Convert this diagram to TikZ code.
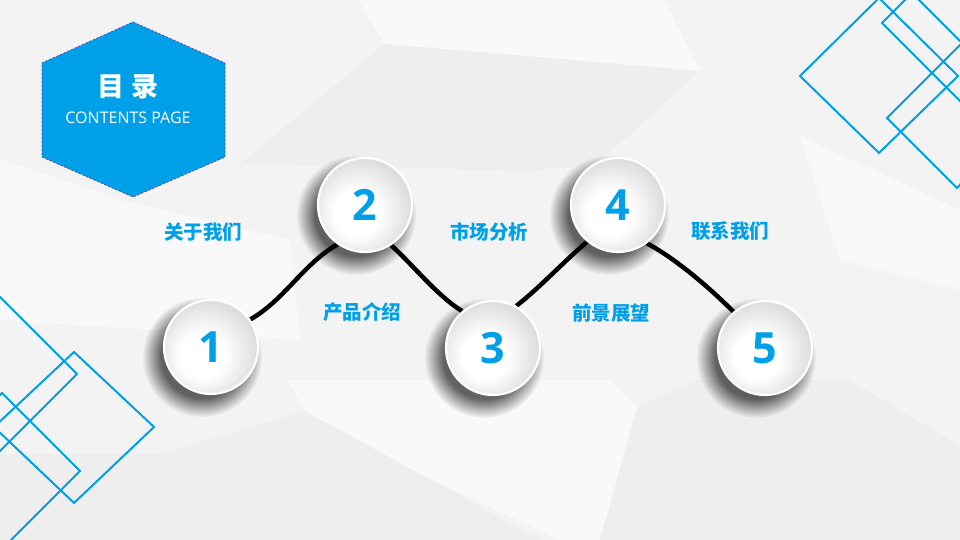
\documentclass[tikz,border=0pt]{standalone}
\usepackage{fontspec}
\setmainfont{Open Sans}
\newfontfamily\cjk{Noto Sans CJK SC}
\usetikzlibrary{fadings}
\definecolor{mainblue}{HTML}{00A0E9}
\definecolor{bgbase}{HTML}{F3F3F4}
\definecolor{bglight}{HTML}{F9F9FA}
\definecolor{bgdark}{HTML}{EEEEEF}
\definecolor{hexedge}{HTML}{5A4FB0}
\pgfdeclareradialshading{discshade}{\pgfpoint{-6bp}{-6bp}}{color(0bp)=(white); color(12bp)=(white); color(28bp)=(black!14); color(50bp)=(black!14)}
\pgfdeclareradialshading{softsh}{\pgfpointorigin}{color(0bp)=(white); color(17bp)=(white); color(25bp)=(black); color(50bp)=(black)}
\pgfdeclarefading{softshadow}{\pgfuseshading{softsh}}
\pgfdeclarelayer{back}
\pgfdeclarelayer{mid}
\pgfsetlayers{back,mid,main}
\begin{document}
\begin{tikzpicture}[x=1pt,y=1pt,
  deco/.style={draw=mainblue, line width=2},
  disc/.style={circle, minimum size=94, inner sep=0, draw=white, line width=2.2, shade, shading=discshade, text=mainblue, font=\bfseries\fontsize{43}{43}\selectfont},
  lbl/.style={text=mainblue, font=\cjk\bfseries\fontsize{19.5}{20}\selectfont, inner sep=0},
  link/.style={draw=black, line width=4.5},
  shadowc/.style={fill=black, opacity=0.6, path fading=softshadow}]
\useasboundingbox (0,0) rectangle (960,540);

% circles
\node[disc] (c1) at (211,193) {1};
\node[disc] (c2) at (365,335) {2};
\node[disc] (c3) at (493,192) {3};
\node[disc] (c4) at (618,335) {4};
\node[disc] (c5) at (765,192) {5};

\begin{pgfonlayer}{back}
  % background
  \fill[bgbase] (0,0) rectangle (960,540);
  \fill[bglight] (358,540) -- (385,496) -- (700,469) -- (665,540) -- cycle;
  \fill[bgdark] (385,496) -- (700,469) -- (597,376) -- (526,369) -- (240,376) -- cycle;
  \fill[bglight] (287,160) -- (305,129) -- (420,66) -- (560,0) -- (600,0) -- (637,132) -- (609,160) -- cycle;
  \fill[bgdark] (0,86) -- (160,86) -- (305,129) -- (420,66) -- (540,0) -- (0,0) -- cycle;
  \fill[bgdark] (637,132) -- (696,160) -- (849,160) -- (960,94) -- (960,0) -- (600,0) -- cycle;
  \fill[bglight] (0,380) -- (120,340) -- (290,300) -- (300,200) -- (0,220) -- cycle;
  \fill[bglight] (800,404) -- (960,330) -- (960,250) -- (840,280) -- cycle;
  % decorative outlines
  \begin{scope}
    \clip (0,0) rectangle (960,540);
    \draw[deco] (800,464) -- (879,542) -- (958,464) -- (879,387) -- cycle;
    \draw[deco] (882,517) -- (912,547) -- (1002,457) -- (972,427) -- cycle;
    \draw[deco] (887,422) -- (1017,552) -- (1085,484) -- (957,352) -- cycle;
    \draw[deco] (74,188) -- (154,113) -- (74,37) -- (-6,113) -- cycle;
    \draw[deco] (77,166) -- (-23,266) -- (-123,166) -- (-23,66) -- cycle;
    \draw[deco] (2,147) -- (80,69) -- (-20,-31) -- (-98,47) -- cycle;
  \end{scope}
  % shadows of the circles
  \fill[shadowc] ([shift={(-9,-10)}]c1.center) circle (60);
  \fill[shadowc] ([shift={(-9,-10)}]c2.center) circle (60);
  \fill[shadowc] ([shift={(-9,-10)}]c3.center) circle (60);
  \fill[shadowc] ([shift={(-9,-10)}]c4.center) circle (60);
  \fill[shadowc] ([shift={(-9,-10)}]c5.center) circle (60);
\end{pgfonlayer}

\begin{pgfonlayer}{mid}
  \draw[link] (c1.35) .. controls +(30:40) and +(-150:40) .. (c2.-125);
  \draw[link] (c2.-57) .. controls +(-42:30) and +(148:30) .. (c3.130);
  \draw[link] (c3.61) .. controls +(38:30) and +(-140:30) .. (c4.-130);
  \draw[link] (c4.-53) .. controls +(-28:35) and +(135:30) .. (c5.131);
\end{pgfonlayer}

% hexagon title
\fill[mainblue] (133,518) -- (225,477) -- (225,383) -- (133,343) -- (42,383) -- (42,477) -- cycle;
\draw[hexedge, line width=0.8, dash pattern=on 2.5pt off 1.5pt] (133,518) -- (225,477) -- (225,383) -- (133,343) -- (42,383) -- (42,477) -- cycle;
\node[text=white, font=\cjk\bfseries\fontsize{27}{27}\selectfont, inner sep=0] (title) at (128,453) {目\hspace{8pt}录};
\node[text=white, font=\fontsize{16}{16}\selectfont, inner sep=0] (sub) at (128,422) {CONTENTS PAGE};

% labels
\node[lbl] (l1) at (203,308) {关于我们};
\node[lbl] (l2) at (362,228) {产品介绍};
\node[lbl] (l3) at (489,308) {市场分析};
\node[lbl] (l4) at (611,227) {前景展望};
\node[lbl] (l5) at (730,309) {联系我们};
\end{tikzpicture}
\end{document}
